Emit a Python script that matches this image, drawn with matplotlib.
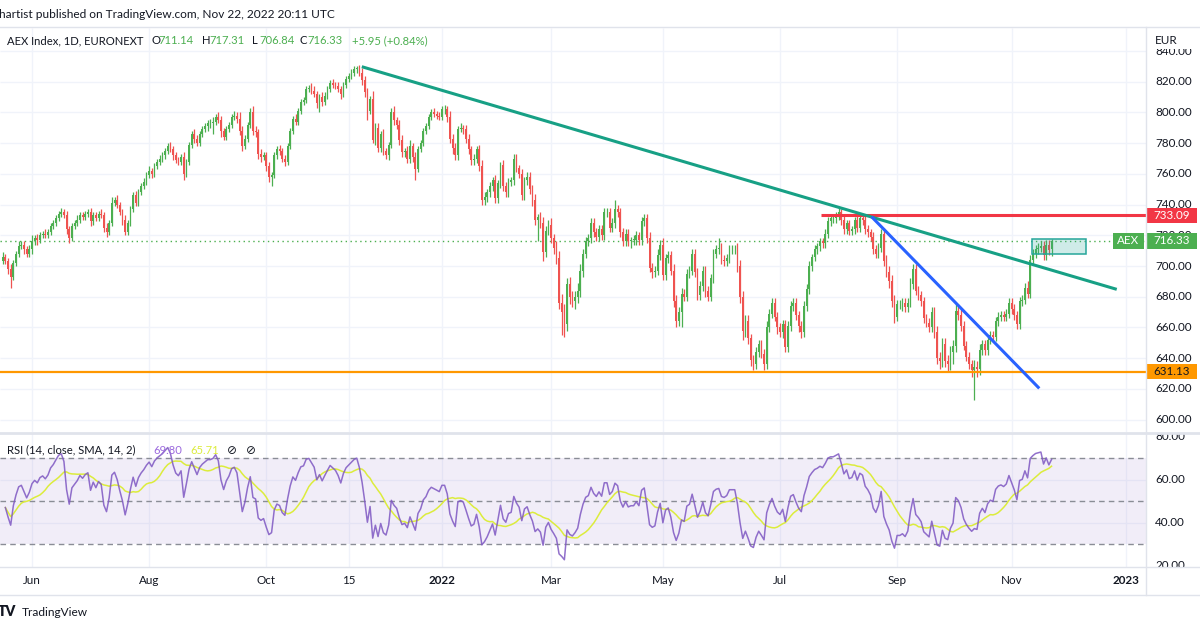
import numpy as np
import pandas as pd
import matplotlib
matplotlib.use("Agg")
import matplotlib.pyplot as plt
from matplotlib.patches import Rectangle
from matplotlib.transforms import blended_transform_factory as blend

plt.rcParams['font.family'] = ['Lato', 'DejaVu Sans']

# AEX Index, 1D, Euronext calendar
holidays = pd.to_datetime(['2022-04-15', '2022-04-18', '2022-12-26'])
calendar = pd.bdate_range('2021-05-17', '2023-01-02')
calendar = calendar[~calendar.isin(holidays)]

close = [
    706, 703, 698, 693, 702, 708, 713, 714, 711, 708,
    711, 716, 718, 717, 720, 721, 720, 722, 726, 728,
    731, 734, 735, 733, 724, 718, 726, 728, 730, 733,
    732, 734, 735, 729, 733, 731, 734, 733, 725, 722,
    728, 741, 743, 740, 735, 730, 722, 728, 737, 746,
    741, 748, 752, 755, 759, 762, 760, 765, 768, 770,
    772, 775, 778, 776, 772, 769, 768, 771, 760, 768,
    779, 786, 783, 780, 786, 789, 791, 793, 793, 794,
    797, 795, 788, 784, 789, 792, 797, 798, 796, 788,
    778, 783, 792, 800, 788, 787, 773, 771, 772, 765,
    758, 759, 772, 776, 775, 770, 768, 778, 788, 796,
    794, 801, 807, 808, 815, 816, 814, 812, 806, 810,
    807, 811, 815, 819, 818, 817, 815, 812, 818, 822,
    824, 826, 828, 829, 826, 821, 813, 801, 809, 782,
    790, 777, 786, 775, 772, 779, 800, 795, 792, 782,
    774, 775, 770, 778, 771, 763, 776, 780, 788, 791,
    797, 800, 799, 798, 797, 802, 802, 797, 783, 777,
    772, 789, 790, 789, 783, 776, 769, 770, 776, 765,
    743, 745, 748, 752, 756, 744, 754, 766, 752, 748,
    755, 756, 770, 764, 760, 746, 756, 758, 750, 743,
    730, 732, 728, 709, 723, 727, 718, 712, 705, 676,
    670, 662, 688, 680, 677, 680, 684, 697, 708, 716,
    718, 728, 722, 719, 724, 720, 735, 735, 725, 728,
    737, 735, 722, 716, 721, 716, 717, 717, 720, 717,
    729, 731, 718, 699, 696, 697, 707, 714, 694, 705,
    707, 697, 677, 664, 670, 682, 680, 695, 697, 708,
    696, 681, 687, 697, 684, 680, 692, 708, 711, 712,
    704, 703, 705, 711, 711, 711, 700, 680, 658, 664,
    653, 639, 636, 644, 649, 643, 636, 660, 669, 676,
    667, 660, 657, 662, 647, 661, 674, 676, 668, 661,
    657, 674, 685, 700, 706, 711, 713, 716, 715, 721,
    729, 731, 731, 733, 735, 730, 724, 728, 723, 724,
    730, 725, 731, 730, 724, 722, 719, 711, 708, 712,
    721, 703, 696, 690, 677, 667, 675, 675, 676, 673,
    676, 688, 698, 684, 681, 677, 666, 663, 660, 670,
    657, 640, 638, 649, 638, 636, 644, 648, 671, 668,
    661, 648, 641, 636, 632, 634, 633, 645, 649, 645,
    652, 655, 654, 664, 667, 668, 667, 669, 676, 672,
    668, 662, 677, 678, 686, 682, 704, 708, 711, 712,
    713, 707, 714, 710.38, 716.33,
]
wick_hi = [
    3, 2, 2, 3, 2, 2, 3, 2, 2, 2, 3, 4, 2, 3, 2, 2, 3, 2, 2, 2,
    2, 2, 3, 2, 3, 2, 2, 2, 3, 2, 2, 2, 2, 3, 2, 2, 2, 3, 2, 3,
    2, 4, 2, 3, 2, 2, 3, 2, 2, 2, 3, 2, 2, 2, 2, 3, 2, 2, 2, 2,
    2, 2, 2, 3, 2, 2, 2, 2, 3, 2, 2, 2, 3, 2, 2, 2, 2, 2, 3, 3,
    2, 3, 3, 2, 2, 2, 2, 3, 2, 4, 3, 2, 2, 3, 4, 3, 2, 3, 2, 2,
    3, 2, 2, 2, 3, 2, 2, 2, 2, 2, 3, 2, 2, 2, 2, 2, 3, 3, 2, 2,
    3, 2, 2, 2, 3, 2, 3, 2, 2, 2, 2, 2, 2, 1, 2, 3, 3, 3, 2, 5,
    3, 3, 2, 3, 2, 2, 3, 4, 2, 3, 3, 2, 3, 4, 2, 3, 2, 2, 2, 2,
    2, 2, 3, 2, 2, 2, 3, 2, 4, 3, 3, 2, 3, 2, 3, 3, 2, 3, 2, 3,
    4, 3, 2, 3, 2, 3, 2, 2, 3, 3, 2, 2, 3, 3, 2, 3, 2, 3, 3, 3,
    4, 2, 3, 4, 3, 3, 4, 3, 4, 5, 6, 5, 4, 5, 4, 4, 5, 4, 3, 3,
    3, 3, 3, 3, 3, 3, 3, 3, 3, 3, 6, 3, 3, 3, 3, 3, 2, 3, 3, 2,
    3, 3, 3, 4, 3, 3, 4, 3, 4, 3, 3, 3, 4, 4, 3, 4, 3, 3, 3, 3,
    3, 3, 3, 3, 3, 3, 3, 3, 3, 6, 3, 3, 3, 3, 3, 3, 4, 4, 4, 4,
    4, 3, 3, 3, 3, 3, 3, 4, 3, 3, 3, 3, 3, 3, 3, 3, 3, 3, 3, 3,
    3, 3, 3, 3, 2, 3, 2, 2, 2, 3, 3, 3, 2, 2, 3, 2, 3, 2, 2, 2,
    2, 3, 2, 3, 3, 3, 2, 3, 3, 3, 3, 4, 4, 4, 4, 4, 3, 3, 3, 3,
    3, 4, 3, 3, 3, 3, 3, 3, 3, 3, 3, 4, 4, 4, 4, 4, 4, 4, 4, 4,
    4, 3, 3, 3, 3, 5, 4, 4, 3, 3, 3, 3, 3, 3, 3, 3, 3, 3, 3, 3,
    3, 3, 3, 3, 3, 4, 3, 3, 3, 3, 3, 3, 3, 3, 0.98,
]
wick_lo = [
    2, 2, 3, 7, 2, 2, 2, 2, 3, 2, 2, 3, 2, 3, 2, 2, 2, 2, 2, 2,
    2, 2, 2, 2, 3, 3, 2, 2, 2, 2, 2, 2, 2, 3, 2, 2, 2, 2, 3, 3,
    2, 2, 2, 2, 2, 3, 2, 2, 2, 2, 2, 2, 2, 2, 2, 2, 3, 2, 2, 2,
    2, 2, 2, 2, 3, 2, 2, 2, 4, 2, 2, 2, 3, 2, 2, 2, 2, 3, 3, 7,
    2, 2, 4, 2, 2, 2, 2, 2, 3, 3, 3, 2, 2, 2, 3, 3, 3, 3, 2, 3,
    3, 6, 2, 2, 3, 2, 3, 2, 2, 2, 2, 2, 2, 2, 2, 2, 2, 2, 3, 6,
    3, 2, 2, 2, 2, 2, 2, 3, 2, 2, 2, 2, 2, 2, 2, 3, 3, 6, 2, 2,
    3, 3, 3, 3, 2, 3, 2, 3, 3, 3, 3, 3, 3, 3, 3, 7, 2, 2, 2, 2,
    2, 2, 2, 2, 2, 2, 3, 3, 3, 4, 3, 3, 2, 3, 3, 3, 3, 3, 3, 3,
    3, 3, 3, 3, 3, 3, 3, 3, 3, 3, 3, 3, 3, 3, 3, 3, 3, 3, 3, 4,
    3, 14, 3, 6, 3, 3, 3, 4, 4, 4, 15, 8, 4, 5, 4, 5, 4, 4, 4, 3,
    3, 3, 3, 3, 3, 3, 3, 3, 3, 3, 3, 3, 3, 3, 3, 3, 4, 3, 3, 3,
    3, 3, 3, 3, 4, 3, 3, 3, 3, 3, 3, 3, 4, 4, 3, 10, 3, 3, 3, 3,
    3, 3, 3, 3, 4, 3, 3, 3, 3, 3, 3, 3, 3, 3, 3, 3, 4, 4, 6, 4,
    4, 4, 4, 3, 3, 3, 4, 3, 3, 3, 3, 4, 3, 4, 3, 3, 3, 3, 3, 4,
    4, 3, 3, 3, 3, 3, 3, 3, 3, 3, 3, 3, 3, 3, 3, 3, 3, 3, 3, 3,
    3, 3, 3, 3, 3, 3, 3, 3, 3, 3, 3, 3, 3, 4, 4, 4, 3, 3, 4, 3,
    3, 3, 3, 3, 3, 3, 3, 3, 3, 3, 4, 4, 5, 4, 4, 5, 4, 8, 4, 3,
    3, 3, 3, 3, 4, 19, 5, 4, 3, 3, 3, 3, 3, 3, 3, 3, 3, 3, 3, 3,
    3, 3, 3, 3, 3, 3, 3, 3, 3, 3, 3, 3, 3, 3, 4.3,
]
first_open = 703.0
last_open = 711.14

legend_ohlc = [('O', '711.14'), ('H', '717.31'), ('L', '706.84'), ('C', '716.33')]
legend_change = '+5.95 (+0.84%)'
rsi_len = 14
rsi_text, sma_text = '69.80', '65.71'

# drawings on the chart: (bar index, price)
teal_line = ([134.9, 418.5], [829.8, 684.8])
blue_line = ([326.4, 389.4], [732.1, 620.3])
resistance, resistance_from = 733.09, 307.4
support = 631.13
zone = (386.6, 406.9, 707.6, 717.4)

tick_dates = ['2021-06-01', '2021-08-02', '2021-10-01', '2021-11-15', '2022-01-03',
              '2022-03-01', '2022-05-02', '2022-07-01', '2022-09-01', '2022-11-01', '2023-01-02']
tick_labels = ['Jun', 'Aug', 'Oct', '15', '2022', 'Mar', 'May', 'Jul', 'Sep', 'Nov', '2023']
price_ticks = [600, 620, 640, 660, 680, 700, 720, 740, 760, 780, 800, 820, 840]
rsi_ticks = [20, 40, 60, 80]

GREEN, RED = '#4caf50', '#ef5350'
TEXT, GRID, BORDER = '#131722', '#f0f3fa', '#e0e3eb'
PURPLE, YELLOW = '#7e57c2', '#dcec3c'
FS = 8.4      # scale labels
FL = 8.1      # legends

W, H = 1200, 630
X0, DX = 2.7, 2.662          # pixel x of bar 0, pixels per bar
AX_SEP = 1146                 # pixel x of price scale border

close = np.array(close, dtype=float)
opens = np.r_[first_open, close[:-1]]
opens[-1] = last_open
highs = np.maximum(opens, close) + np.array(wick_hi)
lows = np.minimum(opens, close) - np.array(wick_lo)
idx = np.arange(len(close))

# RSI (Wilder smoothing), started from a neutral state, and its SMA
chg = np.diff(close, prepend=close[0])
g = np.clip(chg, 0, None)
l = np.clip(-chg, 0, None)
ag = al = np.abs(chg[1:rsi_len + 1]).mean() / 2
rsi = np.full(len(close), np.nan)
for t in range(1, len(close)):
    ag = (ag * (rsi_len - 1) + g[t]) / rsi_len
    al = (al * (rsi_len - 1) + l[t]) / rsi_len
    rsi[t] = 100 - 100 / (1 + ag / al)
rsi = pd.Series(rsi)
rsi_sma = rsi.rolling(rsi_len, min_periods=1).mean()

tick_idx = [calendar.get_loc(pd.Timestamp(d)) for d in tick_dates]


def bar_at(px):
    return (px - X0) / DX


xmin, xmax, xsep = bar_at(0), bar_at(W), bar_at(AX_SEP)


def fig_rect(x0, y0, x1, y1):
    return [x0 / W, 1 - y1 / H, (x1 - x0) / W, (y1 - y0) / H]


fig = plt.figure(figsize=(12, 6.3), dpi=100)
ax = fig.add_axes(fig_rect(0, 28, W, 432))
ax_r = fig.add_axes(fig_rect(0, 433, W, 567))
for a in (ax, ax_r):
    a.set_axis_off()
    a.set_xlim(xmin, xmax)
ax.set_ylim(591.9, 855.0)
ax_r.set_ylim(19.53, 81.86)

# ---- price pane
ax.hlines(price_ticks, xmin, xsep, color=GRID, lw=1, zorder=0)
ax.vlines(tick_idx, 591.9, 855.0, color=GRID, lw=1, zorder=0)

up = close >= opens
col = np.where(up, GREEN, RED)
ax.vlines(idx, lows, highs, colors=col, lw=0.9, zorder=2)
ax.bar(idx, np.maximum(np.abs(close - opens), 0.4), bottom=np.minimum(opens, close),
       width=0.65, color=col, linewidth=0, zorder=3)

ax.hlines(close[-1], xmin, xsep, color=GREEN, lw=1, linestyles=(0, (1, 2.5)), zorder=1)
ax.hlines(support, xmin, xsep, color='#ff9800', lw=1.6, zorder=4)
ax.hlines(resistance, resistance_from, xsep, color='#f23645', lw=2.2, zorder=4)
ax.plot(*teal_line, color='#17a085', lw=2.2, solid_capstyle='butt', zorder=4)
ax.plot(*blue_line, color='#2962ff', lw=2.2, solid_capstyle='butt', zorder=4)
ax.add_patch(Rectangle((zone[0], zone[2]), zone[1] - zone[0], zone[3] - zone[2],
                       facecolor='#26a69a', alpha=0.22, edgecolor='none', zorder=5))
ax.add_patch(Rectangle((zone[0], zone[2]), zone[1] - zone[0], zone[3] - zone[2],
                       facecolor='none', edgecolor='#26a69a', lw=1.1, zorder=5))

tr_p = blend(ax.transAxes, ax.transData)
for p in price_ticks:
    ax.text(1155 / W, p, f'{p:.2f}', transform=tr_p, ha='left', va='center',
            fontsize=FS, color=TEXT, clip_on=True, zorder=6)
# scale header strip partly hides the topmost label
ax.add_patch(Rectangle((AX_SEP / W + 0.001, 841.0), (W - AX_SEP) / W, 16, transform=tr_p,
                       facecolor='white', edgecolor='none', zorder=7, clip_on=True))
fig.text(1155 / W, 1 - 40 / H, 'EUR', ha='left', va='center', fontsize=FS, color=TEXT)


def price_label(x0, x1, y, text, face, tcolor):
    h = 10.0
    ax.add_patch(Rectangle((x0 / W, y - h / 2), (x1 - x0) / W, h, transform=tr_p,
                           facecolor=face, edgecolor='none', zorder=8, clip_on=False))
    ax.text((x0 + x1) / 2 / W, y, text, transform=tr_p, ha='center', va='center',
            fontsize=FS, color=tcolor, zorder=9)


price_label(1146, 1197, resistance, f'{resistance:.2f}', '#f23645', 'white')
price_label(1146, 1197, close[-1], f'{close[-1]:.2f}', GREEN, 'white')
price_label(1113, 1144, close[-1], 'AEX', GREEN, 'white')
price_label(1146, 1197, support, f'{support:.2f}', '#ff9800', TEXT)

# ---- RSI pane
ax_r.vlines(tick_idx, 19.53, 81.86, color=GRID, lw=1, zorder=0)
ax_r.hlines([40, 60], xmin, xsep, color=GRID, lw=1, zorder=0)
ax_r.fill_between([xmin, xsep], 30, 70, color=PURPLE, alpha=0.1, lw=0, zorder=1)
ax_r.hlines([30, 50, 70], xmin, xsep, color='#8a8d96', lw=1, linestyles=(0, (4, 3)), zorder=2)
ax_r.plot(idx, rsi_sma, color=YELLOW, lw=1.1, zorder=3)
ax_r.plot(idx, rsi, color=PURPLE, lw=1.1, alpha=0.85, zorder=4)
tr_r = blend(ax_r.transAxes, ax_r.transData)
for v in rsi_ticks:
    ax_r.text(1155 / W, v, f'{v:.2f}', transform=tr_r, ha='left', va='center',
              fontsize=FS, color=TEXT, clip_on=True)

# ---- time scale
tr_t = blend(ax_r.transData, fig.transFigure)
for i, lab in zip(tick_idx, tick_labels):
    bold = lab.isdigit() and len(lab) == 4
    ax_r.text(i, 1 - 581 / H, lab, transform=tr_t, ha='center', va='center', fontsize=FS,
              color=TEXT, fontweight='bold' if bold else 'normal', clip_on=False)

# ---- frame lines
for y, lw in [(27, 1), (432.5, 2), (567, 1), (595, 1)]:
    fig.add_artist(plt.Line2D([0, 1], [1 - y / H] * 2, color=BORDER, lw=lw))
fig.add_artist(plt.Line2D([AX_SEP / W] * 2, [1 - 27 / H, 1 - 595 / H], color=BORDER, lw=1))

# ---- texts
fig.text(-1 / W, 1 - 14 / H, 'hartist published on TradingView.com, Nov 22, 2022 20:11 UTC',
         ha='left', va='center', fontsize=8.6, color=TEXT)
fig.text(7 / W, 1 - 41 / H, 'AEX Index, 1D, EURONEXT', ha='left', va='center',
         fontsize=FL, color=TEXT)
for (k, v), x in zip(legend_ohlc, [151, 202, 252, 300]):
    fig.text(x / W, 1 - 41 / H, k, ha='left', va='center', fontsize=FL, color=TEXT)
    fig.text((x + 7) / W, 1 - 41 / H, v, ha='left', va='center', fontsize=FL, color=GREEN)
fig.text(352 / W, 1 - 41 / H, legend_change, ha='left', va='center', fontsize=FL, color=GREEN)

fig.text(7 / W, 1 - 450 / H, f'RSI ({rsi_len}, close, SMA, {rsi_len}, 2)', ha='left',
         va='center', fontsize=FL, color=TEXT)
fig.text(153 / W, 1 - 450 / H, rsi_text, ha='left', va='center', fontsize=FL, color='#9c6ade')
fig.text(190 / W, 1 - 450 / H, sma_text, ha='left', va='center', fontsize=FL, color=YELLOW)
for x in (227, 246):
    fig.text(x / W, 1 - 450 / H, '⊘', ha='left', va='center', fontsize=8.5,
             color=TEXT, family=['DejaVu Sans'])

fig.text(-2 / W, 1 - 612 / H, 'TV', ha='left', va='center', fontsize=10,
         fontweight='heavy', color=TEXT)
fig.text(22 / W, 1 - 612 / H, 'TradingView', ha='left', va='center', fontsize=8.6, color=TEXT)

fig.savefig('out.png', dpi=100, facecolor='white')
